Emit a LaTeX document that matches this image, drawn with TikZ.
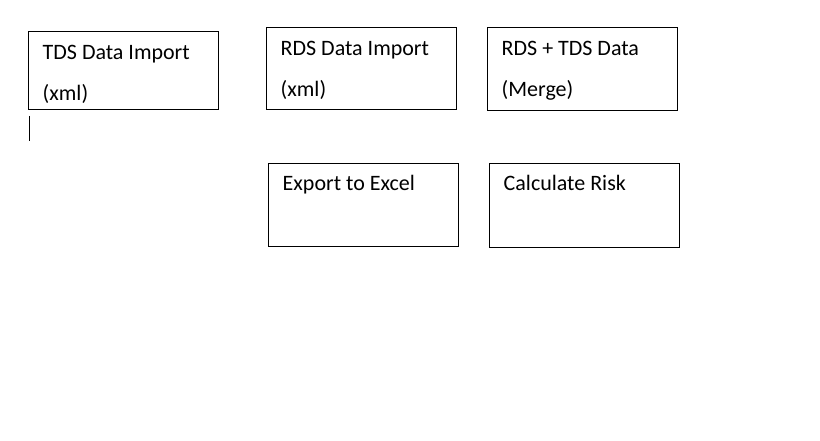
\documentclass[tikz,border=0pt]{standalone}
\usepackage{fontspec}
\setmainfont{Carlito}
\begin{document}
\begin{tikzpicture}[x=1pt,y=-1pt,
  box/.style={draw=black,line width=1pt,rectangle,anchor=north west,inner sep=0pt,minimum width=190pt},
  lbl/.style={anchor=base west,inner sep=0pt,font=\fontsize{22}{26}\selectfont}]
\useasboundingbox (0,0) rectangle (820,441);
\node[box,minimum height=78pt] (tds) at (27.5,31.5) {};
\node[box,minimum height=82pt] (rds) at (265.5,27.5) {};
\node[box,minimum height=83pt] (mrg) at (486.5,27.5) {};
\node[box,minimum height=82pt] (exp) at (267.5,163.5) {};
\node[box,minimum height=83pt] (risk) at (488.5,163.5) {};
\node[lbl] (t1) at ([shift={(15,28)}]tds.north west) {TDS Data Import};
\node[lbl] (t2) at ([shift={(15,69)}]tds.north west) {(xml)};
\node[lbl] (r1) at ([shift={(15,28.5)}]rds.north west) {RDS Data Import};
\node[lbl] (r2) at ([shift={(15,69.5)}]rds.north west) {(xml)};
\node[lbl] (m1) at ([shift={(15,28.5)}]mrg.north west) {RDS + TDS Data};
\node[lbl] (m2) at ([shift={(15,69.5)}]mrg.north west) {(Merge)};
\node[lbl] (e1) at ([shift={(15,27.5)}]exp.north west) {Export to Excel};
\node[lbl] (c1) at ([shift={(15,27.5)}]risk.north west) {Calculate Risk};
\coordinate (cur1) at (29.5,116);
\coordinate (cur2) at (29.5,141);
\draw[line width=1pt] (cur1) -- (cur2);
\end{tikzpicture}
\end{document}
